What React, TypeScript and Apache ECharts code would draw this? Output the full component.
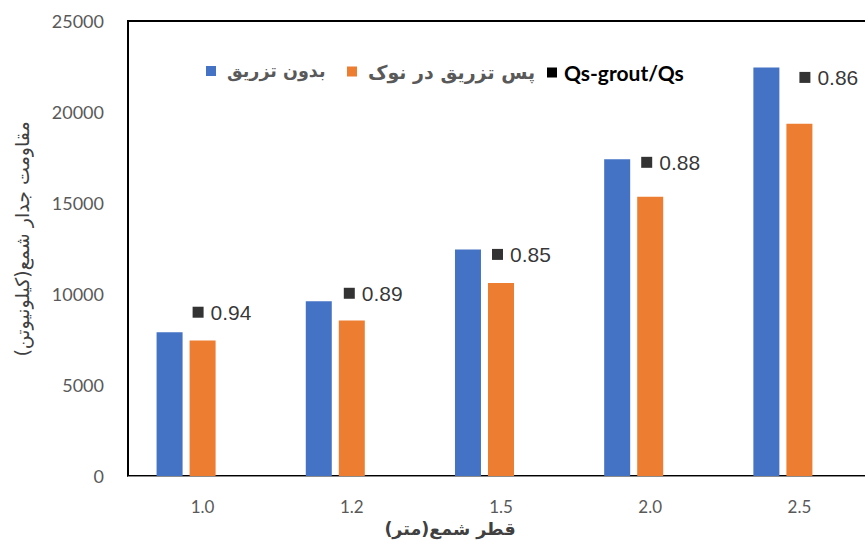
import { useEffect, useRef } from "react";
import * as echarts from "echarts";

// Pile diameter (m) on the category axis
const pileDiameters = ["1.0", "1.2", "1.5", "2.0", "2.5"];
// Shaft resistance (kN) without grouting
const withoutGrout = [7900, 9600, 12450, 17400, 22450];
// Shaft resistance (kN) after tip grouting
const tipGrouted = [7450, 8550, 10600, 15350, 19350];
// Ratio Qs-grout / Qs for each diameter
const groutRatio = [0.94, 0.89, 0.85, 0.88, 0.86];

const yMin = 0;
const yMax = 25000;
const yStep = 5000;

const seriesNames = ["بدون تزریق", "پس تزریق در نوک", "Qs-grout/Qs"];
const yTitle = "مقاومت جدار شمع(کیلونیوتن)";
const xTitle = "قطر شمع(متر)";

// Hand-placed nudges (px) for the ratio callouts, relative to the blue bar tops
const ratioLabelShift: [number, number][] = [
  [-10, -20],
  [-8, -8],
  [-9, 5],
  [-9, 3],
  [0, 10],
];

const persianFont = "'DejaVu Sans', 'Noto Sans', sans-serif";
const numberFont = "Lato, 'Open Sans', sans-serif";

// One legend block per series so each key sits at its own spot
const legendSlots = [
  { left: 206, size: 17.5 },
  { left: 347, size: 19 },
  { left: 547, size: 21 },
];

export default function App() {
  const ref = useRef<HTMLDivElement>(null);

  useEffect(() => {
    if (!ref.current) return;
    const chart = echarts.init(ref.current, null, { renderer: "svg" });

    const legends = seriesNames.map((name, i) => ({
      data: [name],
      left: legendSlots[i].left,
      top: 62,
      padding: 0,
      icon: "rect",
      itemWidth: 10,
      itemHeight: 10,
      selectedMode: false,
      formatter: (n: string) => (i === 2 ? `{q|${n}}` : `{p|${n}}`),
      textStyle: {
        rich: {
          p: {
            fontFamily: persianFont,
            fontSize: legendSlots[i].size,
            fontWeight: "bold",
            color: "#595959",
            padding: [0, 0, 0, 6],
          },
          q: {
            fontFamily: numberFont,
            fontSize: legendSlots[i].size,
            fontWeight: "bold",
            color: "#000000",
            padding: [0, 0, 0, 2],
          },
        },
      },
    }));

    chart.setOption({
      animation: false,
      backgroundColor: "#ffffff",
      grid: {
        left: 128,
        top: 21,
        right: 6,
        height: 455,
        show: true,
        borderColor: "#000000",
        borderWidth: 2,
        backgroundColor: "transparent",
      },
      legend: legends,
      xAxis: {
        type: "category",
        data: pileDiameters,
        axisTick: { show: false },
        axisLine: { show: true, lineStyle: { color: "#8c8c8c", width: 1 } },
        axisLabel: {
          margin: 22,
          fontFamily: numberFont,
          fontSize: 17,
          color: "#595959",
        },
        splitLine: { show: false },
      },
      yAxis: {
        type: "value",
        min: yMin,
        max: yMax,
        interval: yStep,
        axisLine: { show: false },
        axisTick: { show: false },
        splitLine: { show: false },
        axisLabel: {
          margin: 24,
          fontFamily: numberFont,
          fontSize: 18,
          color: "#595959",
          formatter: (v: number) => String(v),
        },
      },
      graphic: [
        {
          type: "text",
          x: 22,
          y: 239,
          rotation: Math.PI / 2,
          style: {
            text: yTitle,
            font: `19px ${persianFont}`,
            fill: "#404040",
            align: "center",
            verticalAlign: "middle",
          },
        },
        {
          type: "text",
          x: 450,
          y: 529,
          style: {
            text: xTitle,
            font: `bold 17.5px ${persianFont}`,
            fill: "#404040",
            align: "center",
            verticalAlign: "middle",
          },
        },
      ],
      series: [
        {
          name: seriesNames[0],
          type: "bar",
          data: withoutGrout,
          barWidth: 26,
          barGap: "27%",
          itemStyle: { color: "#4472C4" },
        },
        {
          name: seriesNames[1],
          type: "bar",
          data: tipGrouted,
          barWidth: 26,
          barGap: "27%",
          itemStyle: { color: "#ED7D31" },
        },
        {
          name: seriesNames[2],
          type: "bar",
          data: groutRatio,
          barWidth: 26,
          barGap: "27%",
          itemStyle: { color: "#000000" },
        },
        {
          // ratio callouts placed beside the tops of the ungrouted bars
          name: "ratioCallouts",
          type: "scatter",
          silent: true,
          symbolSize: 0,
          data: withoutGrout.map((v, i) => ({
            value: [i, v],
            label: { offset: ratioLabelShift[i] },
          })),
          label: {
            show: true,
            position: "right",
            distance: 0,
            formatter: (p: any) =>
              `{sq| }{gap| }{v|${groutRatio[p.dataIndex].toFixed(2)}}`,
            rich: {
              sq: {
                width: 11,
                height: 11,
                backgroundColor: "#000000",
                fontSize: 11,
              },
              gap: { width: 7, fontSize: 11 },
              v: {
                fontFamily: "'Liberation Sans', Arial, sans-serif",
                fontSize: 21,
                color: "#000000",
              },
            },
          },
        },
      ],
    });

    return () => chart.dispose();
  }, []);

  // The plot area runs a little past the right edge, so the chart is wider
  // than the visible frame and clipped.
  return (
    <div
      style={{
        position: "absolute",
        left: 0,
        top: 0,
        width: 865,
        height: 540,
        overflow: "hidden",
      }}
    >
      <div ref={ref} style={{ width: 880, height: 540 }} />
    </div>
  );
}
